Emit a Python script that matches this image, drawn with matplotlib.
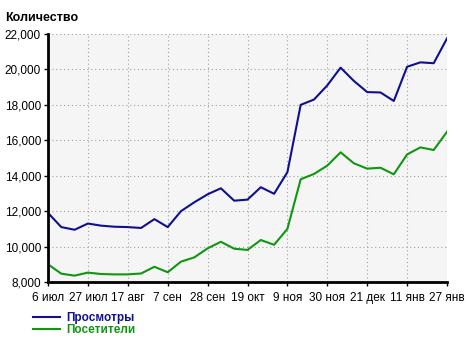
import matplotlib as mpl
mpl.rcParams['font.family'] = 'Liberation Sans'
mpl.rcParams['font.size'] = 8

import matplotlib.pyplot as plt
from matplotlib.ticker import FuncFormatter

tick_labels = ["6 июл", "27 июл", "17 авг", "7 сен", "28 сен", "19 окт",
               "9 ноя", "30 ноя", "21 дек", "11 янв", "27 янв"]

views = [11900, 11100, 10950, 11300, 11180, 11120, 11100, 11050, 11550, 11100,
         12000, 12500, 12950, 13290, 12590, 12650, 13350, 12980, 14200, 18000,
         18300, 19100, 20100, 19350, 18720, 18700, 18220, 20150, 20400, 20350,
         21750]
visitors = [9000, 8470, 8360, 8530, 8450, 8430, 8430, 8480, 8860, 8550,
            9150, 9390, 9900, 10270, 9880, 9810, 10370, 10100, 11000, 13800,
            14100, 14570, 15320, 14700, 14400, 14450, 14080, 15200, 15600, 15450,
            16480]

blue = '#10108f'
green = '#10960f'

fig = plt.figure(figsize=(4.69, 3.43), dpi=100)
ax = fig.add_axes([48/469, 1-282/343, (447-48)/469, (282-34)/343])
ax.set_facecolor('#f5f5f5')

x = list(range(len(views)))
l1, = ax.plot(x, views, color=blue, lw=1.5, label="Просмотры")
l2, = ax.plot(x, visitors, color=green, lw=1.5, label="Посетители")

ax.set_xlim(0, len(views) - 1)
ax.set_ylim(8000, 22000)
ax.set_yticks(range(8000, 22001, 2000))
ax.yaxis.set_major_formatter(FuncFormatter(lambda v, p: f"{int(v):,}"))
ax.set_xticks(range(0, len(views), 3))
ax.set_xticklabels(tick_labels)

ax.grid(True, linestyle=(0, (1, 2.5)), color='#a0a0a0', lw=0.8)
for s in ['top', 'right']:
    ax.spines[s].set_visible(False)
for s in ['left', 'bottom']:
    ax.spines[s].set_linewidth(2)
    ax.spines[s].set_color('black')
ax.tick_params(length=3, width=1, pad=2, labelsize=8.5)
ax.tick_params(axis='x', pad=4)

fig.text(5/469, 1-18/343, "Количество", fontsize=9, fontweight='bold', va='center')

leg = fig.legend(handles=[l1, l2], loc='upper left', bbox_to_anchor=(27/469, 1-306/343),
                 frameon=False, handlelength=2.3, handletextpad=0.55,
                 labelspacing=0.0, borderpad=0, prop={'weight': 'bold', 'size': 8.5})
for t, c in zip(leg.get_texts(), [blue, green]):
    t.set_color(c)

plt.savefig("out.png", dpi=100)
